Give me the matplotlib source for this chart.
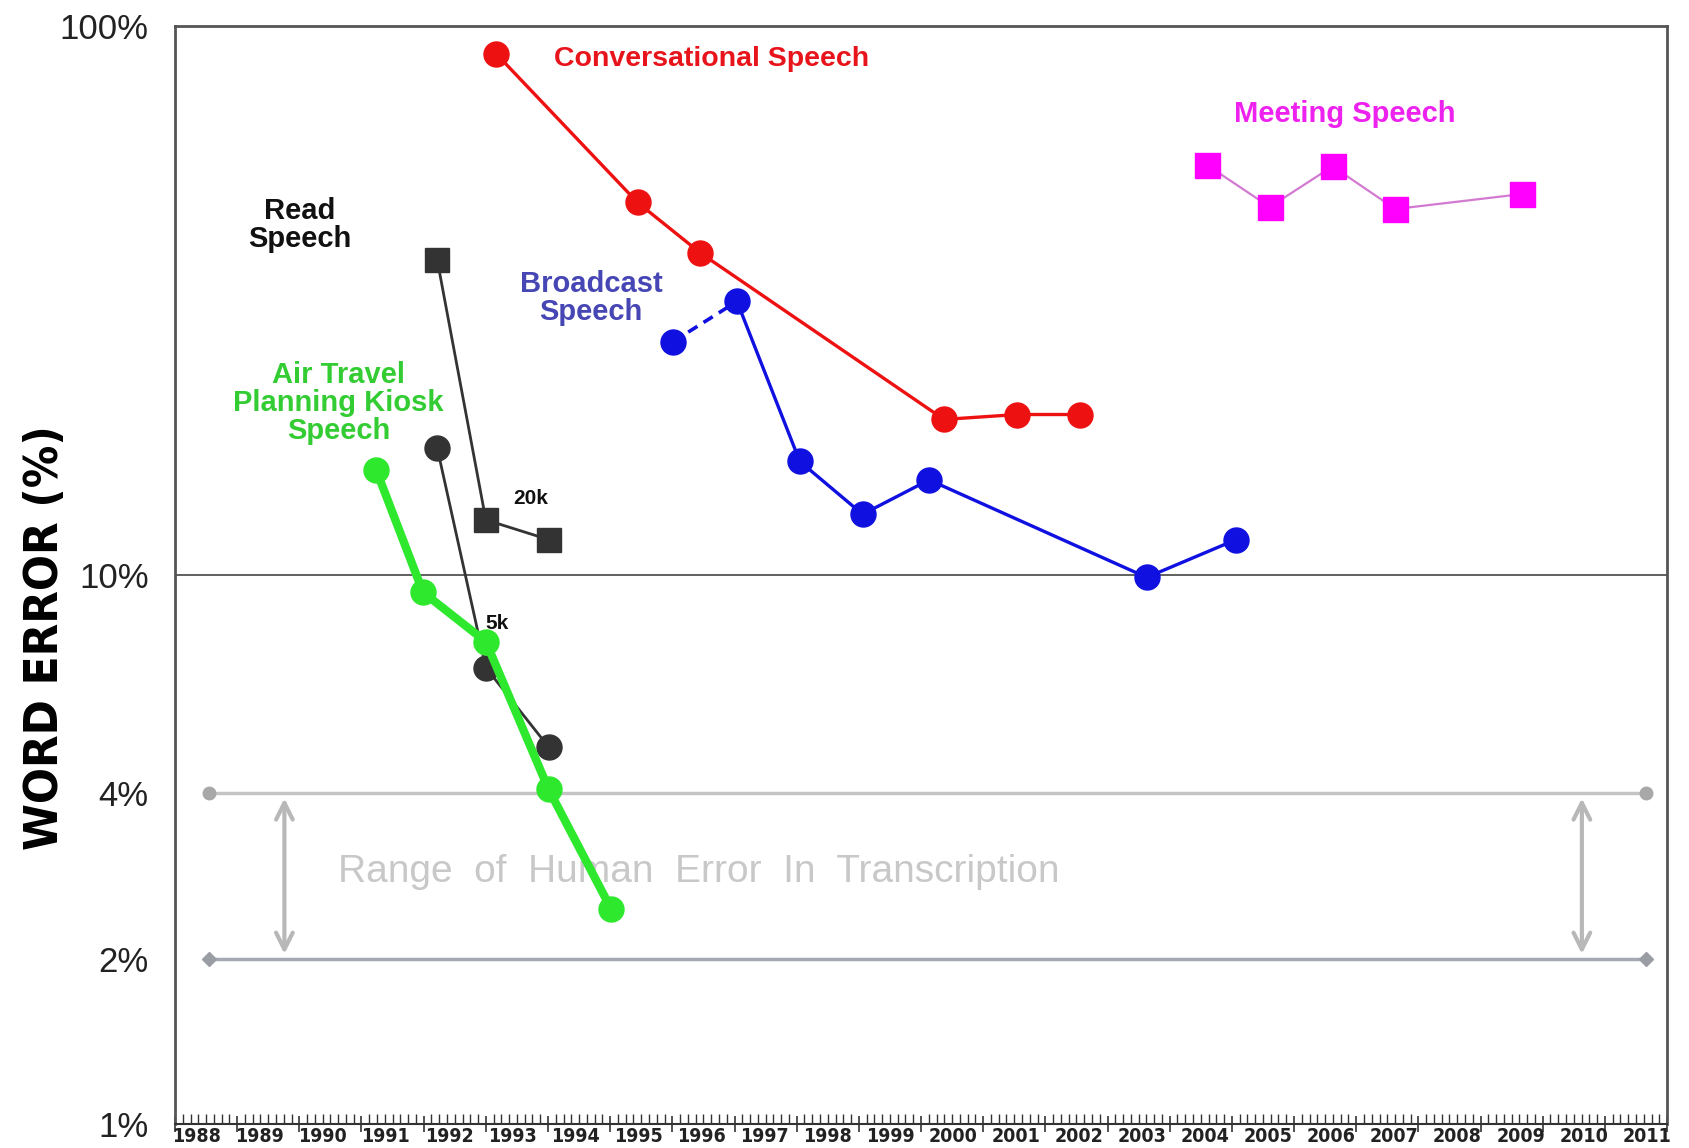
import numpy as np
import matplotlib
matplotlib.use('Agg')
import matplotlib.pyplot as plt
from matplotlib import font_manager

# data (year, word error %)
conv_years = [1993.17, 1995.44, 1996.45, 2000.37, 2001.55, 2002.56]
conv_err = [88.9, 47.7, 38.6, 19.2, 19.6, 19.6]

bn_years = [1996.01, 1997.04, 1998.05, 1999.06, 2000.13, 2003.63, 2005.07]
bn_err = [26.6, 31.5, 16.1, 12.9, 14.9, 9.9, 11.6]

meet_years = [2004.60, 2005.61, 2006.62, 2007.63, 2009.66]
meet_err = [55.8, 46.8, 55.5, 46.4, 49.4]

read20k_years = [1992.22, 1993.0, 1994.01]
read20k_err = [37.4, 12.6, 11.6]

read5k_years = [1992.22, 1993.0, 1994.01]
read5k_err = [17.0, 6.78, 4.86]

atis_years = [1991.24, 1991.99, 1993.0, 1994.01, 1995.02]
atis_err = [15.5, 9.3, 7.56, 4.07, 2.46]

human_range = [4, 2]
human_span = [1988.54, 2011.66]
arrow_years = [1989.76, 2010.63]

years = list(range(1988, 2012))
ytick_vals = [1, 2, 4, 10, 100]
ytick_labels = ['1%', '2%', '4%', '10%', '100%']

plt.rcParams['font.family'] = ['Liberation Sans', 'DejaVu Sans']

# a condensed bold face for the axis title and the year labels, if one is installed
cond = None
for f in font_manager.fontManager.ttflist:
    if 'Narrow' in f.name or ('DejaVu' in f.name and 'Condensed' in f.fname and 'Bold' in f.fname
                              and 'Oblique' not in f.fname and 'Mono' not in f.fname
                              and 'Serif' not in f.fname):
        cond = f.fname
        break
if cond:
    cond_font = font_manager.FontProperties(fname=cond, weight='bold')
else:
    cond_font = font_manager.FontProperties(family='DejaVu Sans', weight='bold')

fig = plt.figure(figsize=(16.89, 11.48), dpi=100)
ax = fig.add_axes([0.1036, 0.0209, 0.8834, 0.9565])
ax.set_yscale('log')
ax.set_xlim(1988, 2012)
ax.set_ylim(1, 100)

# 10% reference line
ax.axhline(10, color='#444444', lw=1.2, zorder=1)

# range of human error
ax.plot(human_span, [human_range[0]] * 2, color='#c4c4c4', lw=2.5, marker='o',
        markersize=9, markerfacecolor='#a8a8a8', markeredgecolor='#a8a8a8', zorder=1)
ax.plot(human_span, [human_range[1]] * 2, color='#a4a8b0', lw=2.5, marker='D',
        markersize=7, markerfacecolor='#9a9ea4', markeredgecolor='#9a9ea4', zorder=1)
for xa in arrow_years:
    ax.annotate('', xy=(xa, human_range[1] * 1.02), xytext=(xa, human_range[0] * 0.98),
                arrowprops=dict(arrowstyle='<->', color='#b8b8b8', lw=3, mutation_scale=30,
                                shrinkA=0, shrinkB=0), zorder=1)
ax.text(1990.63, 2.88, 'Range  of  Human  Error  In  Transcription', color='#c8c8c8',
        fontsize=28, va='center', ha='left', zorder=1)

# series
ax.plot(conv_years, conv_err, color='#ee1111', lw=2.4, marker='o', markersize=18, zorder=3)
ax.plot(bn_years[:2], bn_err[:2], color='#1010e0', lw=2.6, ls=(0, (3, 2)), zorder=3)
ax.plot(bn_years[1:], bn_err[1:], color='#1010e0', lw=2.4, marker='o', markersize=18, zorder=3)
ax.plot(bn_years[:1], bn_err[:1], 'o', color='#1010e0', markersize=18, zorder=3)
ax.plot(meet_years, meet_err, color='#d27ad2', lw=1.6, marker='s', markersize=18,
        markerfacecolor='#ff00ff', markeredgecolor='#ff00ff', zorder=3)
ax.plot(read20k_years, read20k_err, color='#333333', lw=2.0, marker='s', markersize=17, zorder=3)
ax.plot(read5k_years, read5k_err, color='#333333', lw=2.0, marker='o', markersize=18, zorder=3)
ax.plot(atis_years, atis_err, color='#2ee82e', lw=6, marker='o', markersize=18, zorder=4)

# series labels
ax.text(1994.10, 87, 'Conversational Speech', color='#e8141c', fontsize=20.5, fontweight='bold',
        va='center', ha='left')
ax.text(2005.04, 69, 'Meeting Speech', color='#ee22ee', fontsize=21, fontweight='bold',
        va='center', ha='left')
ax.text(1990.0, 43.4, 'Read\nSpeech', color='#111111', fontsize=21, fontweight='bold',
        va='center', ha='center', linespacing=1.0)
ax.text(1994.69, 32.0, 'Broadcast\nSpeech', color='#4646b4', fontsize=21, fontweight='bold',
        va='center', ha='center', linespacing=1.0)
ax.text(1990.63, 20.6, 'Air Travel\nPlanning Kiosk\nSpeech', color='#33cc33', fontsize=21,
        fontweight='bold', va='center', ha='center', linespacing=1.0)
ax.text(1993.44, 13.8, '20k', color='#111111', fontsize=15, fontweight='bold', va='center')
ax.text(1993.0, 8.16, '5k', color='#111111', fontsize=15, fontweight='bold', va='center')

# y axis
ax.set_yticks(ytick_vals)
ax.set_yticklabels(ytick_labels)
ax.yaxis.set_minor_locator(matplotlib.ticker.NullLocator())
ax.tick_params(axis='y', length=0, pad=19, labelsize=25, labelcolor='#222222')
ylab = ax.set_ylabel('WORD ERROR (%)', fontproperties=cond_font)
ylab.set_fontsize(34)
ax.yaxis.set_label_coords(-0.072, 0.443)

# x axis: year boundaries as major ticks, labels just right of each boundary
ax.set_xticks(years + [2012])
ax.set_xticklabels([])
ax.set_xticks(np.arange(1988, 2012, 0.125), minor=True)
ax.tick_params(axis='x', which='major', direction='inout', length=12, width=1.2, color='#333333')
ax.tick_params(axis='x', which='minor', direction='in', length=7, width=1, color='#333333')
for i, yr in enumerate(years):
    t = ax.text(yr + 0.35 + i * 0.014, -0.003, str(yr), transform=ax.get_xaxis_transform(),
                ha='center', va='top', fontproperties=cond_font, color='#222222')
    t.set_fontsize(14)

for side in ['left', 'top', 'right']:
    ax.spines[side].set_color('#555555')
    ax.spines[side].set_linewidth(2)
ax.spines['bottom'].set_color('#333333')
ax.spines['bottom'].set_linewidth(1.5)

fig.savefig('out.png', dpi=100)
